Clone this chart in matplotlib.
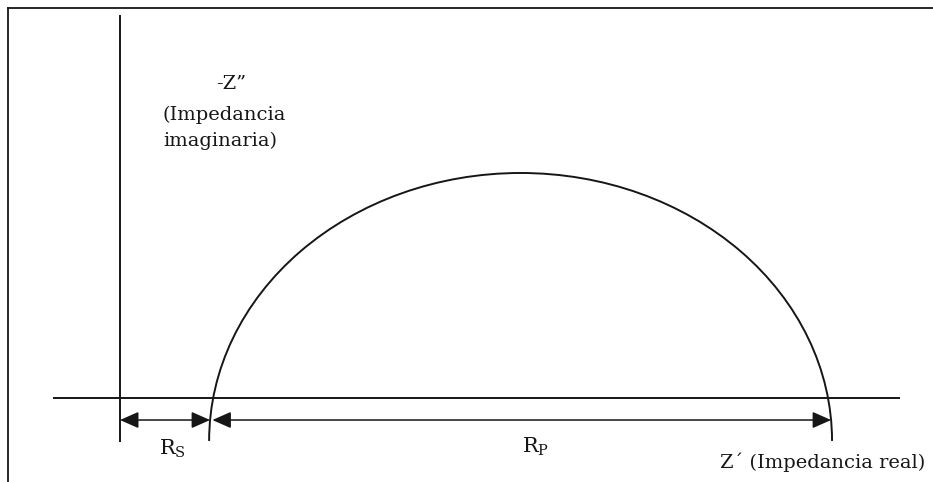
"""
Diagrama de Nyquist: semicírculo de impedancia con Rs y Rp
"""
import numpy as np
import matplotlib
matplotlib.use('Agg')
import matplotlib.pyplot as plt
from matplotlib.patches import Arc
from matplotlib.lines import Line2D

plt.rcParams['font.family'] = ['DejaVu Serif']
plt.rcParams['mathtext.fontset'] = 'dejavuserif'

# Valores del circuito (unidades arbitrarias)
rs = 10.0          # resistencia de la solución
rp = 66.0          # resistencia de polarización
arc_top = rp / 2   # altura máxima del semicírculo
arc_drop = 6.3     # centro del arco por debajo del eje real

# Textos
ylabel_title = '-Z\u201d'
ylabel_desc = '(Impedancia\nimaginaria)'
xlabel = 'Z\u00b4 (Impedancia real)'
rs_label = r'$\mathregular{R_S}$'
rp_label = r'$\mathregular{R_P}$'

ink = '#161616'

fig = plt.figure(figsize=(9.33, 4.82), dpi=100)
ax = fig.add_axes([0, 0, 1, 1])
ax.set_xlim(-12.88, 87.27)
ax.set_ylim(-12.32, 58.37)
ax.axis('off')

# Marco del recuadro (solo lados izquierdo y superior)
fig.add_artist(Line2D([8 / 933, 8 / 933], [0, 1 - 8 / 482], transform=fig.transFigure,
                      color=ink, lw=1.3))
fig.add_artist(Line2D([8 / 933, 1], [1 - 8 / 482, 1 - 8 / 482], transform=fig.transFigure,
                      color=ink, lw=1.3))

# Ejes
ax.plot([0, 0], [-6.45, 56.2], color=ink, lw=1.4, solid_capstyle='butt')
ax.plot([-7.2, 83.7], [0, 0], color=ink, lw=1.4, solid_capstyle='butt')

# Semicírculo (elipse con centro ligeramente bajo el eje)
b = arc_top + arc_drop
a = (rp / 2) / np.sqrt(1 - (arc_drop / b) ** 2)
xc = rs + rp / 2
ax.add_patch(Arc((xc, -arc_drop), 2 * a, 2 * b, theta1=0, theta2=180,
                 color=ink, lw=1.4))

# Cotas de Rs y Rp
y_arrow = -3.23
dx = a * np.sqrt(1 - ((y_arrow + arc_drop) / b) ** 2)
x_left, x_right = xc - dx, xc + dx
arrow = dict(arrowstyle='<|-|>,head_length=0.95,head_width=0.42', mutation_scale=12,
             color=ink, lw=1.1, shrinkA=0, shrinkB=0)
ax.annotate('', xy=(x_left, y_arrow), xytext=(0, y_arrow), arrowprops=arrow)
ax.annotate('', xy=(x_right, y_arrow), xytext=(x_left + 0.25, y_arrow), arrowprops=arrow)

ax.text(5.6, -8.36, rs_label, fontsize=15, ha='center', va='baseline', color=ink)
ax.text(44.6, -8.07, rp_label, fontsize=15, ha='center', va='baseline', color=ink)

# Etiquetas de los ejes
ax.text(11.9, 47.36, ylabel_title, fontsize=14, ha='center', va='top', color=ink)
ax.text(4.6, 42.87, ylabel_desc, fontsize=14, ha='left', va='top', color=ink,
        linespacing=1.55)
ax.text(86.4, -10.27, xlabel, fontsize=14, ha='right', va='baseline', color=ink)

fig.savefig('out.png', dpi=100, facecolor='white')
